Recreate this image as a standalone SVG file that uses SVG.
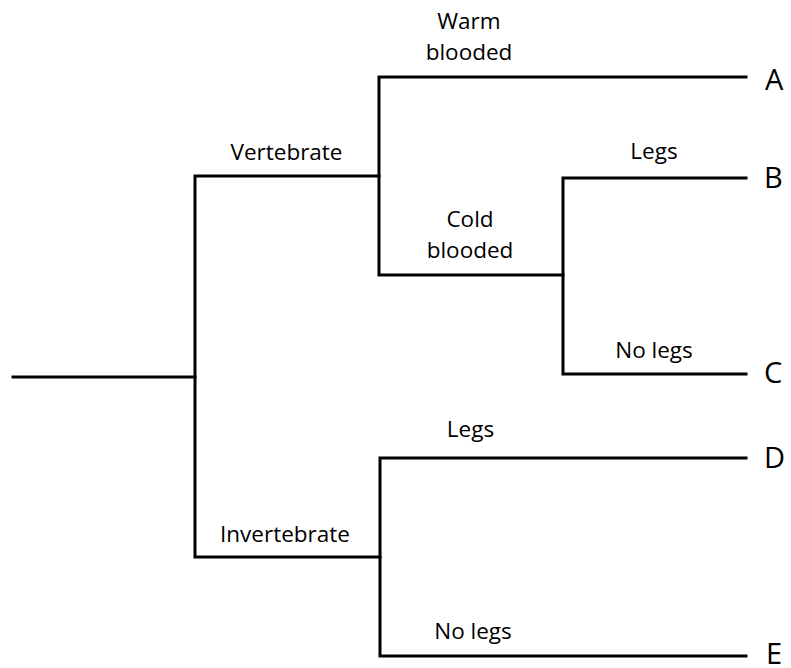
<svg xmlns="http://www.w3.org/2000/svg" width="791" height="668" viewBox="0 0 791 668">
<style>
.ln{stroke:#000;stroke-width:3;fill:none;stroke-linejoin:miter;stroke-linecap:square}
.lb{font-family:"Open Sans","Noto Sans",sans-serif;font-size:22.5px;fill:#000;text-anchor:middle}
.lt{font-family:"Open Sans","Noto Sans",sans-serif;font-size:29px;fill:#000}
</style>
<rect width="791" height="668" fill="#fff"/>
<g id="connectors">
<path class="ln" d="M13,377 H195"/>
<path class="ln" d="M379,176 H195 V557 H380"/>
<path class="ln" d="M746,77 H379 V275 H563"/>
<path class="ln" d="M746,178 H563 V374 H746"/>
<path class="ln" d="M746,458 H380 V656 H746"/>
</g>
<g id="labels">
<text class="lb" x="469" y="29">Warm</text>
<text class="lb" x="469" y="60">blooded</text>
<text class="lb" x="286.5" y="160">Vertebrate</text>
<text class="lb" x="654" y="159">Legs</text>
<text class="lb" x="470" y="227">Cold</text>
<text class="lb" x="470" y="258">blooded</text>
<text class="lb" x="654" y="358">No legs</text>
<text class="lb" x="470.5" y="437">Legs</text>
<text class="lb" x="285" y="542">Invertebrate</text>
<text class="lb" x="473" y="639">No legs</text>
</g>
<g id="node-A"><text class="lt" x="765" y="90">A</text></g>
<g id="node-B"><text class="lt" x="764" y="188">B</text></g>
<g id="node-C"><text class="lt" x="764" y="383">C</text></g>
<g id="node-D"><text class="lt" x="764" y="468">D</text></g>
<g id="node-E"><text class="lt" x="766" y="664">E</text></g>
</svg>
